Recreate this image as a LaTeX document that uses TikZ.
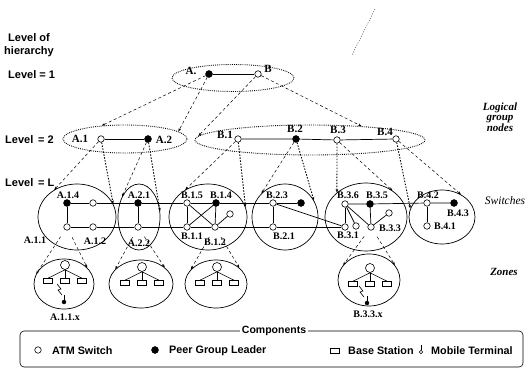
\documentclass[tikz,border=0pt]{standalone}
\usepackage{fontspec}
\setmainfont{Liberation Serif}
\setsansfont{Liberation Sans}
\usetikzlibrary{shapes.geometric,arrows.meta}

\begin{document}
\begin{tikzpicture}[x=1pt,y=-1pt,
  sw/.style={circle,draw,fill=white,inner sep=0pt,minimum size=6.5pt,line width=0.6pt},
  pgl/.style={circle,fill=black,draw,inner sep=0pt,minimum size=7pt},
  bstn/.style={rectangle,draw,fill=white,inner sep=0pt,minimum width=8.5pt,minimum height=5pt,line width=0.6pt},
  root/.style={circle,draw,fill=white,inner sep=0pt,minimum size=9pt,line width=0.6pt},
  mt/.style={circle,fill=black,draw,inner sep=0pt,minimum size=4pt},
  lbl/.style={font=\bfseries\fontsize{10}{10}\selectfont,inner sep=0pt},
  biglbl/.style={font=\bfseries\fontsize{11}{11}\selectfont,inner sep=0pt},
  grp/.style={ellipse,draw,line width=0.9pt,dash pattern=on 0.8pt off 1.1pt,inner sep=0pt},
  clus/.style={ellipse,draw,line width=0.7pt,inner sep=0pt},
  link/.style={line width=0.7pt},
  mapd/.style={line width=0.5pt,dash pattern=on 3pt off 2.5pt,-{Stealth[length=3.5pt,width=2.5pt]}},
  mapo/.style={line width=0.9pt,dash pattern=on 1.5pt off 1.5pt,-{Stealth[length=3.5pt,width=2.5pt]}},
  lvl/.style={font=\sffamily\bfseries\fontsize{11}{13}\selectfont,inner sep=0pt},
  side/.style={font=\bfseries\itshape\fontsize{11}{12}\selectfont,inner sep=0pt,align=center},
  leg/.style={font=\sffamily\bfseries\fontsize{10.8}{12}\selectfont,inner sep=0pt,anchor=west},
]
\useasboundingbox (0,0) rectangle (529,371);

% ---- level captions on the left ----
\node[lvl,align=center] (hdr) at (29,45) {Level of\\hierarchy};
\node[lvl,anchor=west] (lv1) at (8,75) {Level = 1};
\node[lvl,anchor=west] (lv2) at (5,140) {Level \,= 2};
\node[lvl,anchor=west] (lvL) at (5,183) {Level \,= L};

% ---- captions on the right ----
\node[side] (cap1) at (500,117) {Logical\\[-1.5pt]group\\[-1.5pt]nodes};
\node[side,font=\itshape\fontsize{11.5}{12}\selectfont] (cap2) at (505,201) {Switches};
\node[side] (cap3) at (504,272) {Zones};

% stray dotted trace at the top
\draw[line width=0.4pt,dash pattern=on 1pt off 1.5pt] (375,9) -- (352,55);

% ---- level 1 ----
\node[grp,minimum width=122pt,minimum height=27pt] (L1) at (233,78) {};
\node[pgl] (nA) at (209,74) {};
\node[sw] (nB) at (258,74) {};
\node[biglbl] (tA) at (191,71) {A.};
\node[biglbl] (tB) at (268,69) {B};
\draw[link] (nA) -- (nB);

% ---- level 2 ----
\node[grp,minimum width=124pt,minimum height=28pt] (EA) at (125,139) {};
\node[grp,minimum width=230pt,minimum height=30pt] (EB) at (310,140) {};
\node[sw] (nA1) at (101,139) {};
\node[pgl] (nA2) at (148,139) {};
\node[sw] (nB1) at (238,139) {};
\node[pgl] (nB2) at (296,139) {};
\node[sw] (nB3) at (337,140) {};
\node[sw] (nB4) at (396,139) {};
\node[biglbl] (tA1) at (80,139) {A.1};
\node[biglbl] (tA2) at (164,140) {A.2};
\node[biglbl] (tB1) at (225,135) {B.1};
\node[biglbl] (tB2) at (295,129) {B.2};
\node[biglbl] (tB3) at (338,130) {B.3};
\node[biglbl] (tB4) at (385,132) {B.4};
\draw[link] (nA1) -- (nA2);
\draw[link] (nB1) -- (nB2) -- (nB3) -- (nB4);

\draw[mapd] (nA) -- (EA.150);
\draw[mapd] (nA) -- (EA.8);
\draw[mapd] (nB) -- (EB.178);
\draw[mapd] (nB) -- (EB.15);

% ---- level L : switch clusters ----
\node[clus,minimum width=78pt,minimum height=66pt] (CA1) at (77,217) {};
\node[clus,minimum width=42pt,minimum height=66pt] (CA2) at (139,217) {};
\node[clus,minimum width=78pt,minimum height=66pt] (CB1) at (208,217) {};
\node[clus,minimum width=66pt,minimum height=66pt] (CB2) at (285,217) {};
\node[clus,minimum width=82pt,minimum height=68pt] (CB3) at (366,217) {};
\node[clus,minimum width=66pt,minimum height=54pt] (CB4) at (442,217) {};

\draw[mapd] (nA1) -- (CA1.130);
\draw[mapo] (nA1) -- (CA1.20);
\draw[mapd] (nA2) -- (CA2.130);
\draw[mapo] (nA2) -- (CA2.15);
\draw[mapd] (nB1) -- (CB1.130);
\draw[mapo] (nB1) -- (CB1.15);
\draw[mapd] (nB2) -- (CB2.135);
\draw[mapo] (nB2) -- (CB2.30);
\draw[mapo] (nB3) -- (CB3.140);
\draw[mapd] (nB3) -- (CB3.45);
\draw[mapo] (nB4) -- (CB4.165);
\draw[mapd] (nB4) -- (CB4.50);

% switches
\node[pgl] (A14) at (67,203) {};
\node[sw]  (A13) at (93,203) {};
\node[sw]  (A11) at (67,227) {};
\node[sw]  (A12) at (93,227) {};
\node[pgl] (A21) at (138,203) {};
\node[sw]  (A22) at (138,227) {};
\node[sw]  (B15) at (187,203) {};
\node[pgl] (B14) at (216,203) {};
\node[sw]  (B11) at (187,227) {};
\node[sw]  (B12) at (215,227) {};
\node[sw]  (B13) at (230,214) {};
\node[sw]  (B23) at (273,203) {};
\node[pgl] (B22) at (301,203) {};
\node[sw]  (B21) at (273,227) {};
\node[sw]  (B36) at (345,204) {};
\node[pgl] (B35) at (370,204) {};
\node[sw]  (B31) at (345,227) {};
\node[sw]  (B32) at (356,226) {};
\node[sw]  (B33) at (371,227) {};
\node[sw]  (B34) at (389,213) {};
\node[sw]  (B42) at (427,203) {};
\node[pgl] (B43) at (454,203) {};
\node[sw]  (B41) at (427,226) {};

% links between switches
\draw[link] (A14) -- (A13) -- (A21) -- (B15) -- (B14) -- (B23) -- (B22);
\draw[link] (A11) -- (A12) -- (A22) -- (B11) -- (B12) -- (B21) -- (B31);
\draw[link] (B36) -- (B35) -- (B42) -- (B43);
\draw[link] (A14) -- (A11);
\draw[link] (A21) -- (A22);
\draw[link] (B15) -- (B11);
\draw[link] (B14) -- (B12);
\draw[link] (B15) -- (B12);
\draw[link] (B14) -- (B11);
\draw[link] (B12) -- (B13);
\draw[link] (B23) -- (B21);
\draw[link] (B23) -- (B31);
\draw[link] (B36) -- (B31);
\draw[link] (B36) -- (B32);
\draw[link] (B36) -- (B33);
\draw[link] (B35) -- (B33);
\draw[link] (B33) -- (B34);
\draw[link] (B42) -- (B41);

% switch labels
\node[lbl] (tA14) at (68,195) {A.1.4};
\node[lbl] (tA11) at (35,240) {A.1.1};
\node[lbl] (tA12) at (95,241) {A.1.2};
\node[lbl] (tA21) at (139,195) {A.2.1};
\node[lbl] (tA22) at (139,243) {A.2.2};
\node[lbl] (tB15) at (192,195) {B.1.5};
\node[lbl] (tB14) at (221,195) {B.1.4};
\node[lbl] (tB11) at (192,236) {B.1.1};
\node[lbl] (tB12) at (215,242) {B.1.2};
\node[lbl] (tB23) at (277,195) {B.2.3};
\node[lbl] (tB21) at (284,236) {B.2.1};
\node[lbl] (tB36) at (348,195) {B.3.6};
\node[lbl] (tB35) at (377,195) {B.3.5};
\node[lbl] (tB31) at (348,235) {B.3.1};
\node[lbl] (tB33) at (390,228) {B.3.3};
\node[lbl] (tB42) at (428,195) {B.4.2};
\node[lbl] (tB43) at (458,213) {B.4.3};
\node[lbl] (tB41) at (445,226) {B.4.1};

% ---- zones ----
\node[clus,minimum width=60pt,minimum height=50pt] (Z1) at (64,284) {};
\node[clus,minimum width=64pt,minimum height=48pt] (Z2) at (141,284) {};
\node[clus,minimum width=62pt,minimum height=48pt] (Z3) at (216,284) {};
\node[clus,minimum width=62pt,minimum height=52pt] (Z4) at (369,280) {};

\foreach \z/\cx/\cy in {1/65/265, 2/142/267, 3/217/267, 4/370/268} {
  \node[root] (z\z r) at (\cx,\cy) {};
  \node[bstn] (z\z a) at (\cx-17,\cy+16) {};
  \node[bstn] (z\z b) at (\cx,\cy+16) {};
  \node[bstn] (z\z c) at (\cx+17,\cy+16) {};
  \draw[line width=0.6pt] (z\z r.south) -- (z\z a.north);
  \draw[line width=0.6pt] (z\z r) -- (z\z b);
  \draw[line width=0.6pt] (z\z r.south) -- (z\z c.north);
}

\draw[mapd,shorten <=8pt] (A11) -- (Z1.160);
\draw[mapd,shorten <=8pt] (A11) -- (Z1.35);
\draw[mapd,shorten <=8pt] (A22) -- (Z2.150);
\draw[mapd,shorten <=8pt] (A22) -- (Z2.35);
\draw[mapd,shorten <=8pt] (B12) -- (Z3.150);
\draw[mapd,shorten <=8pt] (B12) -- (Z3.35);
\draw[mapd,shorten <=8pt] (B33) -- (Z4.150);
\draw[mapd,shorten <=8pt] (B33) -- (Z4.30);

% mobile terminals with radio link
\node[mt] (m1) at (64,302) {};
\coordinate (m1s) at (64,295);
\draw[line width=0.6pt] (m1) -- (m1s);
\draw[line width=0.6pt] (57,284) -- (61,289) -- (58,290) -- (62,295);
\node[lbl] (tm1) at (65,317) {A.1.1.x};

\node[mt] (m4) at (367,303) {};
\coordinate (m4s) at (367,296);
\draw[line width=0.6pt] (m4) -- (m4s);
\draw[line width=0.6pt] (359,286) -- (363,291) -- (360,292) -- (364,297);
\node[lbl] (tm4) at (368,314) {B.3.3.x};

% ---- legend ----
\node[draw,rounded corners=4pt,line width=0.6pt,minimum width=503pt,minimum height=36pt,inner sep=0pt] (legend) at (271.5,349) {};
\node[fill=white,font=\sffamily\bfseries\fontsize{10.5}{12}\selectfont,inner sep=1.5pt] (legtitle) at (274,331) {Components};
\node[sw] (k1) at (38,350) {};
\node[leg] (k1t) at (52,351) {ATM Switch};
\node[pgl] (k2) at (155,350) {};
\node[leg] (k2t) at (169,351) {Peer Group Leader};
\node[bstn] (k3) at (335,351) {};
\node[leg] (k3t) at (348,351) {Base Station};
\node[circle,draw,fill=white,inner sep=0pt,minimum size=3.5pt,line width=0.6pt] (k4) at (421,352) {};
\coordinate (k4s) at (421,345);
\draw[line width=0.6pt] (k4) -- (k4s);
\node[leg] (k4t) at (431,351) {Mobile Terminal};
\end{tikzpicture}
\end{document}
